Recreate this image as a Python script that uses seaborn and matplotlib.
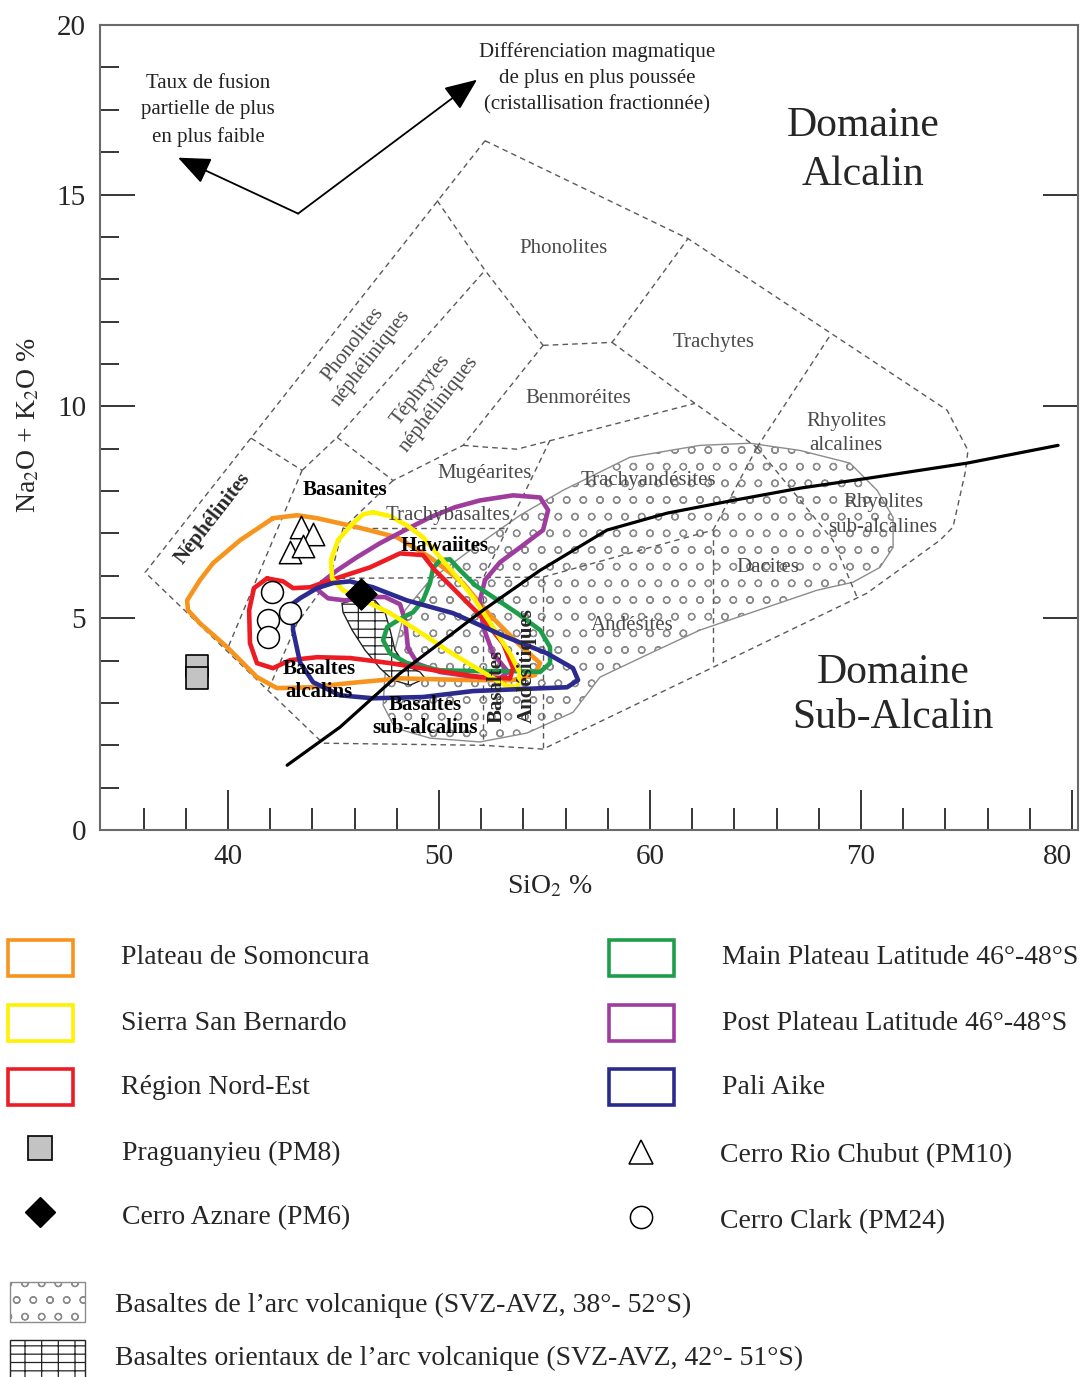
import matplotlib
matplotlib.use("Agg")
import matplotlib.pyplot as plt
from matplotlib.patches import Polygon, Rectangle
import seaborn as sns
import numpy as np

# ---------------- data (SiO2 %, Na2O+K2O %) ----------------

# coloured envelopes
somoncura_x = [42.13, 43.27, 44.22, 46.11, 48.01, 49.57, 51.14, 52.42, 53.84, 54.79, 54.55, 53.51, 51.47,
               48.15, 45.78, 43.89, 42.32, 41.37, 39.95, 38.67, 38.10, 38.06, 38.67, 39.29, 40.57]
somoncura_y = [7.36, 7.43, 7.36, 7.15, 6.91, 6.44, 5.83, 5.07, 4.36, 3.94, 3.66, 3.54, 3.54,
               3.58, 3.47, 3.37, 3.35, 3.61, 4.32, 4.88, 5.19, 5.42, 5.90, 6.30, 6.84]

bernardo_x = [46.87, 47.68, 48.48, 49.24, 50.05, 50.85, 51.61, 52.56, 53.36, 53.84, 53.74, 53.13, 51.94,
              50.52, 49.10, 47.68, 46.26, 45.45, 44.93, 44.88, 45.21, 45.88, 46.40]
bernardo_y = [7.50, 7.41, 7.19, 6.91, 6.44, 5.97, 5.50, 4.79, 4.17, 3.70, 3.37, 3.42, 3.77,
              4.20, 4.67, 5.12, 5.47, 5.66, 5.94, 6.37, 6.84, 7.22, 7.45]

nordest_x = [41.85, 42.61, 43.08, 43.89, 44.69, 45.55, 46.73, 48.15, 49.24, 49.81, 50.52, 51.94, 53.03,
             53.51, 53.36, 51.94, 50.05, 47.68, 45.78, 44.22, 42.94, 42.13, 41.37, 41.04, 41.00, 41.23]
nordest_y = [5.94, 5.87, 5.71, 5.73, 5.87, 6.01, 6.20, 6.53, 6.49, 6.13, 5.78, 5.07, 4.41,
             3.82, 3.58, 3.61, 3.75, 3.94, 4.06, 4.08, 4.01, 3.82, 3.94, 4.41, 5.19, 5.71]

paliaike_x = [43.08, 43.41, 44.22, 44.98, 45.78, 46.87, 48.48, 50.66, 53.22, 55.12, 56.35, 56.59, 56.07,
              53.98, 51.61, 49.24, 46.87, 45.31, 44.03, 43.41, 43.08]
paliaike_y = [5.35, 5.47, 5.71, 5.83, 5.87, 5.73, 5.42, 5.12, 4.55, 4.17, 3.82, 3.54, 3.37,
              3.33, 3.28, 3.14, 3.11, 3.18, 3.49, 3.96, 4.72]

post_x = [44.45, 45.17, 46.11, 47.20, 48.39, 49.57, 50.76, 51.94, 53.51, 54.79, 55.17, 54.93, 53.84,
          52.89, 52.18, 51.94, 52.09, 52.56, 53.27, 52.89, 51.47, 50.05, 49.00, 48.53, 48.39, 48.15,
          47.44, 46.49, 45.55, 44.74, 44.27]
post_y = [5.85, 6.13, 6.44, 6.77, 7.08, 7.38, 7.62, 7.78, 7.90, 7.85, 7.55, 7.08, 6.67,
          6.32, 5.90, 5.42, 4.79, 4.17, 3.73, 3.58, 3.63, 3.73, 3.92, 4.29, 4.95, 5.33,
          5.50, 5.50, 5.42, 5.47, 5.66]

main_x = [49.72, 50.05, 50.52, 51.00, 51.71, 52.65, 53.70, 54.79, 55.26, 55.26, 54.79, 53.84, 51.94,
          50.05, 48.48, 47.68, 47.35, 47.54, 48.15, 48.77, 49.24, 49.57]
main_y = [6.18, 6.37, 6.39, 6.13, 5.78, 5.47, 5.12, 4.72, 4.32, 3.94, 3.73, 3.75, 3.75,
          3.77, 3.94, 4.17, 4.48, 4.79, 4.98, 5.14, 5.42, 5.83]

# volcanic arc basalts (stippled) and eastern arc basalts (brick)
arc_x = [47.91, 48.39, 49.57, 51.47, 53.84, 55.88, 59.05, 62.37, 64.74, 67.11, 69.48, 70.76, 71.52, 71.52,
         70.90, 69.62, 67.91, 65.55, 62.37, 60.00, 57.63, 56.35, 54.17, 51.94, 49.57, 47.91, 47.35, 47.44]
arc_y = [4.25, 5.19, 5.90, 6.60, 7.43, 8.02, 8.80, 9.08, 9.13, 8.96, 8.66, 8.02, 7.38, 6.67,
         6.20, 5.85, 5.66, 5.26, 4.72, 4.17, 3.61, 2.78, 2.29, 2.08, 2.17, 2.41, 2.95, 3.66]

orient_x = [45.40, 46.26, 46.97, 47.44, 47.68, 47.91, 48.39, 49.10, 49.34, 48.63, 47.82, 47.20, 46.49, 45.88, 45.45]
orient_y = [5.35, 5.47, 5.42, 5.14, 4.72, 4.25, 3.89, 3.73, 3.58, 3.42, 3.54, 3.82, 4.25, 4.72, 5.14]

# single samples
pm8_x, pm8_y = [38.53, 38.53], [3.87, 3.58]
pm6_x, pm6_y = [46.30], [5.57]
pm10_x, pm10_y = [43.46, 44.03, 42.94, 43.55], [7.15, 6.98, 6.56, 6.70]
pm24_x, pm24_y = [42.09, 41.90, 42.94, 41.90], [5.61, 4.95, 5.12, 4.55]

# alkaline / sub-alkaline divide
divide_x = [42.80, 45.31, 48.15, 52.09, 54.79, 57.96, 60.81, 63.93, 67.11, 70.28, 75.02, 79.34]
divide_y = [1.53, 2.43, 3.70, 5.19, 6.13, 7.08, 7.48, 7.78, 8.07, 8.30, 8.66, 9.08]

# field boundaries (dashed)
outer = [(52.18, 16.27), (61.80, 13.96), (74.08, 9.91), (75.07, 8.96), (74.93, 8.42), (74.36, 7.15),
         (73.74, 6.84), (70.28, 5.59), (54.93, 1.91), (52.09, 2.00), (44.50, 2.05), (36.07, 6.08), (52.18, 16.27)]
inner = [
    [(41.09, 9.25), (43.51, 8.49)],
    [(43.51, 8.49), (39.95, 4.25)],
    [(43.51, 8.49), (45.17, 9.27), (52.18, 13.21)],
    [(49.91, 14.86), (52.18, 13.21), (54.93, 11.44)],
    [(45.17, 9.27), (47.82, 8.25), (51.14, 9.08), (54.93, 11.44)],
    [(54.93, 11.44), (58.20, 11.51), (61.80, 13.96)],
    [(58.20, 11.51), (62.13, 10.07), (65.07, 9.03)],
    [(65.07, 9.03), (68.53, 11.67)],
    [(47.82, 8.25), (45.45, 7.12), (44.83, 5.94), (43.27, 4.88), (41.90, 3.30)],
    [(51.14, 9.08), (52.42, 9.03), (53.70, 8.99), (62.13, 10.07)],
    [(55.26, 9.20), (52.09, 5.94)],
    [(45.45, 7.12), (53.22, 7.12)],
    [(44.83, 5.94), (54.93, 5.97)],
    [(52.09, 5.94), (52.09, 2.00)],
    [(54.93, 5.97), (54.93, 1.91)],
    [(54.93, 5.97), (62.99, 7.08)],
    [(62.99, 7.08), (65.07, 9.03)],
    [(62.99, 7.08), (62.99, 3.89)],
    [(65.07, 9.03), (68.67, 6.84), (69.81, 5.50)],
]

# field names
grey_names = ["Phonolites", "Trachytes", "Benmoréites", "Rhyolites\nalcalines", "Mugéarites",
              "Trachyandésites", "Rhyolites\nsub-alcalines", "Trachybasaltes", "Dacites", "Andésites"]
grey_x = [55.88, 63.03, 56.59, 69.29, 52.18, 59.91, 71.04, 50.43, 65.59, 59.15]
grey_y = [13.73, 11.51, 10.19, 9.36, 8.42, 8.25, 7.43, 7.43, 6.20, 4.83]

bold_names = ["Basanites", "Hawaiites", "Basaltes\nalcalins", "Basaltes\nsub-alcalins"]
bold_x = [45.55, 50.28, 44.31, 49.34]
bold_y = [8.02, 6.70, 3.54, 2.67]

orange = "#F7941D"
yellow = "#FFF200"
red = "#ED1C24"
green = "#1E9E4A"
purple = "#9E3D9E"
navy = "#2B2A8E"
grey_txt = "#4a4a4a"
grey_line = "#5a5a5a"
stipple = "#8c8c8c"

# ---------------- figure ----------------
sns.set_theme(style="ticks")
plt.rcParams['font.family'] = ['Liberation Serif', 'DejaVu Serif']
plt.rcParams['mathtext.fontset'] = 'stix'
plt.rcParams['hatch.linewidth'] = 0.9

fig = plt.figure(figsize=(10.83, 13.77), dpi=100)
ax = fig.add_axes([0.0923, 0.3972, 0.9030, 0.5846])
ax.set_xlim(33.93, 80.28)
ax.set_ylim(0, 19.0)

# stippled arc field
ax.add_patch(Polygon(np.column_stack([arc_x, arc_y]), closed=True, facecolor="white",
                     edgecolor=stipple, hatch="o", linewidth=1.0, zorder=1))

# dashed field boundaries
for line in [outer] + inner:
    xs, ys = zip(*line)
    ax.plot(xs, ys, color=grey_line, linewidth=1.0, linestyle=(0, (4, 3)), zorder=2)

# brick field
ax.add_patch(Polygon(np.column_stack([orient_x, orient_y]), closed=True, facecolor="white",
                     edgecolor="#222222", hatch="--|", linewidth=1.0, zorder=3))

# coloured envelopes
for xs, ys, col in [(somoncura_x, somoncura_y, orange), (post_x, post_y, purple),
                    (main_x, main_y, green), (nordest_x, nordest_y, red),
                    (bernardo_x, bernardo_y, yellow), (paliaike_x, paliaike_y, navy)]:
    sns.lineplot(x=xs + xs[:1], y=ys + ys[:1], sort=False, estimator=None, color=col,
                 linewidth=3.3, solid_joinstyle="round", ax=ax, zorder=4)

# alkaline / sub-alkaline line
sns.lineplot(x=divide_x, y=divide_y, sort=False, estimator=None, color="black",
             linewidth=2.3, ax=ax, zorder=5)

# samples
sns.scatterplot(x=pm8_x, y=pm8_y, marker="s", s=270, color="#c3c3c3", edgecolor="black",
                linewidth=1.2, ax=ax, zorder=6)
sns.scatterplot(x=pm6_x, y=pm6_y, marker="D", s=250, color="black", edgecolor="black",
                linewidth=1, ax=ax, zorder=6)
sns.scatterplot(x=pm10_x, y=pm10_y, marker="^", s=260, color="white", edgecolor="black",
                linewidth=1.1, ax=ax, zorder=6)
sns.scatterplot(x=pm24_x, y=pm24_y, marker="o", s=250, color="white", edgecolor="black",
                linewidth=1.1, ax=ax, zorder=6)

# field names
for name, x, y in zip(grey_names, grey_x, grey_y):
    ax.text(x, y, name, ha="center", va="center", fontsize=15, color=grey_txt,
            linespacing=1.4, zorder=7)
for name, x, y in zip(bold_names, bold_x, bold_y):
    ax.text(x, y, name, ha="center", va="center", fontsize=15, fontweight="bold",
            color="black", linespacing=1.2, zorder=7)
ax.text(39.29, 7.36, "Néphélinites", rotation=52, ha="center", va="center", fontsize=15,
        fontweight="bold", zorder=7)
ax.text(46.35, 11.30, "Phonolites\nnéphéliniques", rotation=52, ha="center", va="center",
        fontsize=15, color=grey_txt, linespacing=1.3, zorder=7)
ax.text(49.57, 10.21, "Téphrytes\nnéphéliniques", rotation=52, ha="center", va="center",
        fontsize=15, color=grey_txt, linespacing=1.3, zorder=7)
ax.text(52.75, 2.52, "Basaltes", rotation=90, ha="center", va="bottom", fontsize=15,
        fontweight="bold", zorder=7)
ax.text(54.17, 2.52, "Andésitiques", rotation=90, ha="center", va="bottom", fontsize=15,
        fontweight="bold", zorder=7)

# trend arrows
for tip in [(37.63, 15.87), (51.80, 17.71)]:
    ax.annotate("", xy=tip, xytext=(43.32, 14.55),
                arrowprops=dict(arrowstyle="-|>,head_length=1.0,head_width=0.42", color="black",
                                linewidth=1.3, shrinkA=0, shrinkB=0, mutation_scale=20), zorder=7)
ax.text(39.05, 16.98, "Taux de fusion\npartielle de plus\nen plus faible", ha="center", va="center",
        fontsize=15, color="#222222", linespacing=1.5)
ax.text(57.49, 17.74, "Différenciation magmatique\nde plus en plus poussée\n(cristallisation fractionnée)",
        ha="center", va="center", fontsize=15, color="#222222", linespacing=1.5)
ax.text(70.09, 16.04, "Domaine\nAlcalin", ha="center", va="center", fontsize=30, linespacing=1.35)
ax.text(71.52, 3.18, "Domaine\nSub-Alcalin", ha="center", va="center", fontsize=30, linespacing=1.2)

# axes styling
for sp in ax.spines.values():
    sp.set_color("#6a6a6a")
    sp.set_linewidth(1.5)
ax.set_xticks([40, 50, 60, 70, 80])
ax.set_xticks(np.arange(36, 80, 2), minor=True)
ax.set_yticks([0, 5, 10, 15, 19.0], ["0", "5", "10", "15", "20"])
ax.set_yticks(np.arange(1, 19, 1), minor=True)
ax.tick_params(axis="x", which="major", direction="in", length=29, width=1.1, labelsize=21,
               pad=10, top=False, color="black")
ax.tick_params(axis="x", which="minor", direction="in", length=16, width=1.1, top=False, color="black")
ax.tick_params(axis="y", which="major", direction="in", length=25, width=1.1, labelsize=21,
               pad=10, left=True, right=True, color="black")
ax.tick_params(axis="y", which="minor", direction="in", length=14, width=1.1, left=True,
               right=False, color="black")
ax.get_xticklabels()[-1].set_horizontalalignment("right")
ax.set_xlabel("SiO$_2$ %", fontsize=20)
ax.xaxis.set_label_coords(0.46, -0.054)
ax.set_ylabel("Na$_2$O + K$_2$O %", fontsize=20)
ax.yaxis.set_label_coords(-0.06, 0.503)

# ---------------- legend (laid out in pixel space) ----------------
lax = fig.add_axes([0, 0, 1, 1])
lax.set_xlim(0, 1083)
lax.set_ylim(1377, 0)
lax.axis("off")

box_items = [("Plateau de Somoncura", orange, 8, 940), ("Sierra San Bernardo", yellow, 8, 1005),
             ("Région Nord-Est", red, 8, 1069),
             ("Main Plateau Latitude 46°-48°S", green, 609, 940),
             ("Post Plateau Latitude 46°-48°S", purple, 609, 1005), ("Pali Aike", navy, 609, 1069)]
for label, col, x0, y0 in box_items:
    lax.add_patch(Rectangle((x0, y0), 65, 36, fill=False, edgecolor=col, linewidth=2.6))
    lax.text(x0 + 113, y0 + 18, label, ha="left", va="center", fontsize=20)

lax.plot([40], [1148], marker="s", markersize=17, color="#c3c3c3", markeredgecolor="black", mew=1.2)
lax.text(122, 1153, "Praguanyieu (PM8)", ha="left", va="center", fontsize=20)
lax.plot([40], [1212], marker="D", markersize=15, color="black")
lax.text(122, 1218, "Cerro Aznare (PM6)", ha="left", va="center", fontsize=20)
lax.plot([641], [1152], marker="^", markersize=17, color="white", markeredgecolor="black", mew=1.1)
lax.text(720, 1156, "Cerro Rio Chubut (PM10)", ha="left", va="center", fontsize=20)
lax.plot([641], [1217], marker="o", markersize=16, color="white", markeredgecolor="black", mew=1.1)
lax.text(720, 1222, "Cerro Clark (PM24)", ha="left", va="center", fontsize=20)

lax.add_patch(Rectangle((10, 1282), 75, 40, facecolor="white", edgecolor=stipple, hatch="o", linewidth=1.0))
lax.text(115, 1305, "Basaltes de l’arc volcanique (SVZ-AVZ, 38°- 52°S)", ha="left", va="center", fontsize=20)
lax.add_patch(Rectangle((10, 1340), 75, 40, facecolor="white", edgecolor="#222222", hatch="--|", linewidth=1.0))
lax.text(115, 1358, "Basaltes orientaux de l’arc volcanique (SVZ-AVZ, 42°- 51°S)", ha="left", va="center", fontsize=20)

fig.savefig("out.png", dpi=100)
